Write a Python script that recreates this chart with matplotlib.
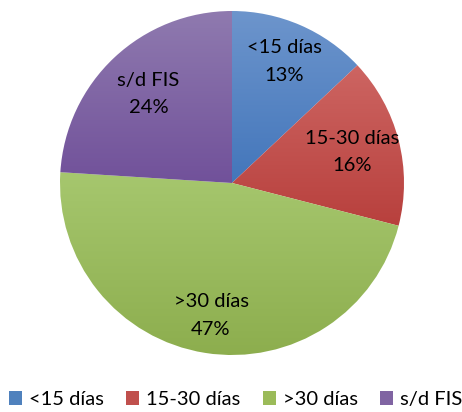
import numpy as np
import matplotlib
matplotlib.use("Agg")
import matplotlib.pyplot as plt
from matplotlib.colors import LinearSegmentedColormap
from matplotlib.patches import Patch

# data
categories = ["<15 días", "15-30 días", ">30 días", "s/d FIS"]
values = [13, 16, 47, 24]

# Office-style colours, light (top) to dark (bottom)
light_colors = ["#6D95CC", "#CD6562", "#A6C76E", "#8F7AAF"]
dark_colors = ["#4376BB", "#B8403D", "#8CAD4D", "#71519A"]
mid_colors = ["#4F81BD", "#C0504D", "#9BBB59", "#8064A2"]

plt.rcParams["font.family"] = ["Lato", "DejaVu Sans"]

fig = plt.figure(figsize=(4.62, 4.12), dpi=100)
ax = fig.add_axes([60 / 462, 57 / 412, 344 / 462, 344 / 412])

wedges, _ = ax.pie(values, startangle=90, counterclock=False,
                   colors=mid_colors, radius=1.0)
ax.set_aspect("equal")

# vertical gradient inside each wedge
grad = np.linspace(0, 1, 256).reshape(-1, 1)
for w, lc, dc in zip(wedges, light_colors, dark_colors):
    verts = w.get_path().vertices
    x0, x1 = verts[:, 0].min(), verts[:, 0].max()
    y0, y1 = verts[:, 1].min(), verts[:, 1].max()
    cmap = LinearSegmentedColormap.from_list("g", [dc, lc])
    im = ax.imshow(grad, cmap=cmap, extent=(x0, x1, y0, y1),
                   origin="lower", aspect="auto", zorder=1.5)
    im.set_clip_path(w)
    w.set_visible(False)
ax.set_xlim(-1, 1)
ax.set_ylim(-1, 1)

# labels inside the wedges
label_dist = [0.77, 0.72, 0.78, 0.71]
for w, name, v, d in zip(wedges, categories, values, label_dist):
    ang = np.deg2rad((w.theta1 + w.theta2) / 2)
    ax.text(d * np.cos(ang), d * np.sin(ang), f"{name}\n{v}%",
            ha="center", va="center", fontsize=14.5, color="#000000",
            linespacing=1.75, zorder=3)

handles = [Patch(facecolor=c, edgecolor="none") for c in mid_colors]
fig.legend(handles, categories, loc="lower center", ncol=4,
           bbox_to_anchor=(0.51, -0.035), frameon=False, fontsize=14.5,
           handlelength=0.65, handleheight=0.65, handletextpad=0.35,
           columnspacing=1.1)

fig.savefig("out.png", dpi=100)
